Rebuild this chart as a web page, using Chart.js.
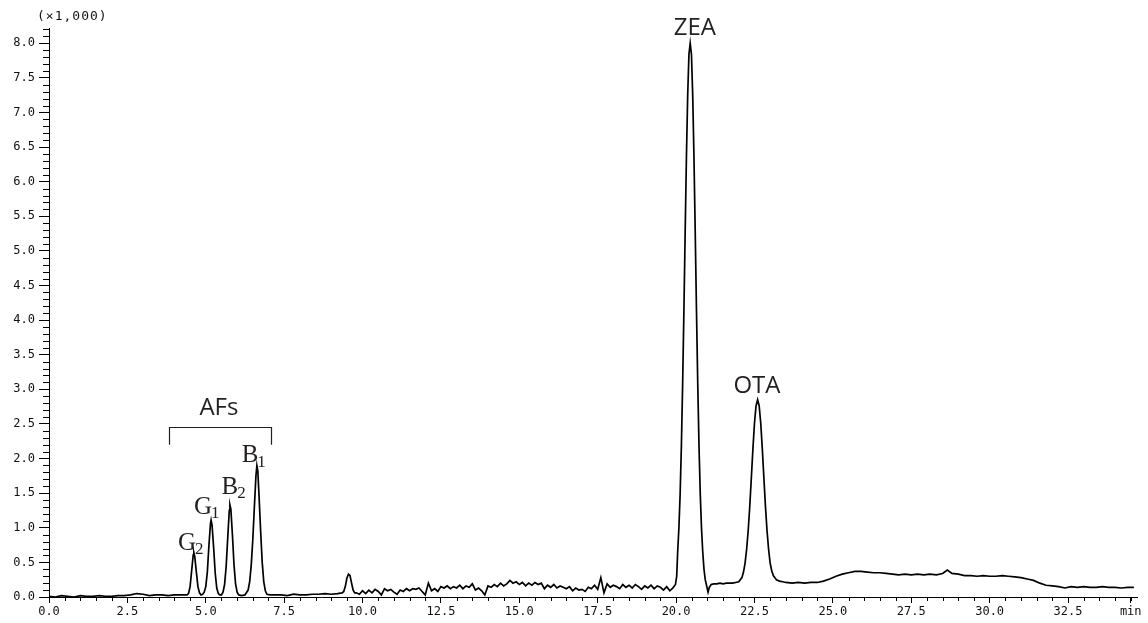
<!DOCTYPE html>
<html lang="en">
<head>
    <meta charset="UTF-8">
    <title>Chromatogram - AFs, ZEA, OTA</title>
    <script src="https://cdn.jsdelivr.net/npm/chart.js"></script>
    <style>
        body {
            margin: 0;
            background: white;
        }

        .chart-box {
            width: 1148px;
            height: 623px;
        }
    </style>
</head>
<body>
    <div class="chart-box">
        <canvas id="chromChart" width="1148" height="623"></canvas>
    </div>

    <script>
        // retention time (min) and detector signal (x1,000)
        const retentionTime = [
            0.0, 0.2, 0.4, 0.6, 0.8, 1.0, 1.2, 1.4, 1.6, 1.8, 2.0, 2.2, 2.4, 2.6, 2.8, 3.0, 3.2, 3.4, 3.6, 3.8, 4.0, 4.2, 4.4,
            4.45, 4.50, 4.55, 4.60, 4.62, 4.65, 4.70, 4.75, 4.80, 4.85, 4.90,
            4.95, 5.00, 5.05, 5.10, 5.15, 5.17, 5.20, 5.25, 5.30, 5.35, 5.40, 5.45,
            5.50, 5.55, 5.60, 5.65, 5.70, 5.75, 5.77, 5.80, 5.85, 5.90, 5.95, 6.00, 6.05, 6.15,
            6.25, 6.35, 6.40, 6.45, 6.50, 6.55, 6.60, 6.63, 6.66, 6.70, 6.75, 6.80, 6.85, 6.90, 6.95, 7.05,
            7.2, 7.4, 7.6, 7.8, 8.0, 8.2, 8.4, 8.6, 8.8, 9.0, 9.2, 9.35,
            9.40, 9.45, 9.50, 9.55, 9.60, 9.65, 9.70, 9.75,
            9.8, 9.9, 10.0, 10.1, 10.2, 10.3, 10.4, 10.5, 10.6, 10.7, 10.8, 10.9,
            11.0, 11.1, 11.2, 11.3, 11.4, 11.5, 11.6, 11.7, 11.8, 11.9,
            12.0, 12.1, 12.2, 12.3, 12.4, 12.5, 12.6, 12.7, 12.8, 12.9,
            13.0, 13.1, 13.2, 13.3, 13.4, 13.5, 13.6, 13.7, 13.8, 13.9,
            14.0, 14.1, 14.2, 14.3, 14.4, 14.5, 14.6, 14.7, 14.8, 14.9,
            15.0, 15.1, 15.2, 15.3, 15.4, 15.5, 15.6, 15.7, 15.8, 15.9,
            16.0, 16.1, 16.2, 16.3, 16.4, 16.5, 16.6, 16.7, 16.8, 16.9,
            17.0, 17.1, 17.2, 17.3, 17.4, 17.5, 17.6, 17.7, 17.8, 17.9,
            18.0, 18.1, 18.2, 18.3, 18.4, 18.5, 18.6, 18.7, 18.8, 18.9,
            19.0, 19.1, 19.2, 19.3, 19.4, 19.5, 19.6, 19.7, 19.8, 19.9, 19.98,
            20.02, 20.05, 20.09, 20.13, 20.17, 20.21, 20.25, 20.29, 20.33, 20.37, 20.41, 20.45,
            20.49, 20.53, 20.57, 20.61, 20.65, 20.69, 20.73, 20.77, 20.81, 20.85, 20.89, 20.93, 20.97,
            21.02, 21.06, 21.12, 21.2, 21.3, 21.4, 21.5, 21.6, 21.7, 21.8, 21.9, 22.0,
            22.1, 22.15, 22.2, 22.25, 22.3, 22.35, 22.4, 22.45, 22.5, 22.55, 22.6,
            22.65, 22.7, 22.75, 22.8, 22.85, 22.9, 22.95, 23.0, 23.05, 23.1, 23.2, 23.3, 23.4,
            23.5, 23.7, 23.9, 24.1, 24.3, 24.5, 24.7, 24.9, 25.1, 25.3, 25.5, 25.7, 25.9,
            26.1, 26.3, 26.5, 26.7, 26.9, 27.1, 27.3, 27.5, 27.7, 27.9, 28.1, 28.3, 28.5, 28.65, 28.8,
            29.0, 29.2, 29.4, 29.6, 29.8, 30.0, 30.2, 30.4, 30.6, 30.8, 31.0, 31.2, 31.4, 31.6, 31.8,
            32.0, 32.2, 32.4, 32.6, 32.8, 33.0, 33.2, 33.4, 33.6, 33.8, 34.0, 34.2, 34.4, 34.6
        ];
        const signal = [
            0.01, 0.00, 0.02, 0.01, 0.00, 0.02, 0.01, 0.01, 0.02, 0.01, 0.01, 0.02, 0.02, 0.03, 0.05, 0.04, 0.02, 0.03, 0.03, 0.02, 0.03, 0.03, 0.03,
            0.05, 0.15, 0.38, 0.61, 0.64, 0.58, 0.36, 0.15, 0.06, 0.03, 0.04,
            0.07, 0.15, 0.36, 0.74, 1.06, 1.11, 1.04, 0.72, 0.35, 0.13, 0.05, 0.03,
            0.03, 0.07, 0.18, 0.44, 0.85, 1.25, 1.33, 1.27, 0.90, 0.47, 0.19, 0.07, 0.03, 0.02,
            0.03, 0.10, 0.22, 0.46, 0.83, 1.30, 1.75, 1.90, 1.82, 1.45, 0.95, 0.50, 0.22, 0.09, 0.04, 0.03,
            0.03, 0.03, 0.02, 0.04, 0.03, 0.03, 0.04, 0.04, 0.05, 0.04, 0.05, 0.06,
            0.08, 0.15, 0.27, 0.33, 0.31, 0.20, 0.10, 0.06,
            0.06, 0.04, 0.09, 0.05, 0.10, 0.06, 0.11, 0.08, 0.03, 0.12, 0.09, 0.11,
            0.07, 0.04, 0.10, 0.08, 0.12, 0.09, 0.12, 0.11, 0.13, 0.08,
            0.03, 0.20, 0.09, 0.12, 0.08, 0.15, 0.13, 0.16, 0.12, 0.15,
            0.13, 0.17, 0.12, 0.16, 0.14, 0.19, 0.10, 0.13, 0.09, 0.03,
            0.16, 0.14, 0.18, 0.15, 0.20, 0.16, 0.19, 0.24, 0.20, 0.22,
            0.18, 0.21, 0.16, 0.20, 0.17, 0.21, 0.18, 0.20, 0.12, 0.17,
            0.14, 0.18, 0.13, 0.16, 0.14, 0.12, 0.15, 0.09, 0.13, 0.10,
            0.11, 0.08, 0.14, 0.12, 0.17, 0.11, 0.28, 0.06, 0.19, 0.14,
            0.17, 0.15, 0.12, 0.18, 0.14, 0.17, 0.13, 0.18, 0.15, 0.11,
            0.16, 0.13, 0.17, 0.12, 0.16, 0.14, 0.10, 0.15, 0.09, 0.13, 0.18,
            0.30, 0.65, 1.00, 1.50, 2.20, 3.10, 4.15, 5.28, 6.36, 7.25, 7.84, 8.00,
            7.84, 7.25, 6.36, 5.28, 4.15, 3.10, 2.20, 1.50, 1.00, 0.65, 0.40, 0.25, 0.17,
            0.07, 0.14, 0.18, 0.19, 0.19, 0.20, 0.19, 0.20, 0.20, 0.20, 0.21, 0.22,
            0.28, 0.36, 0.49, 0.69, 0.96, 1.31, 1.72, 2.14, 2.51, 2.76, 2.85,
            2.76, 2.51, 2.14, 1.72, 1.31, 0.96, 0.69, 0.49, 0.38, 0.31, 0.25, 0.23, 0.22,
            0.21, 0.20, 0.21, 0.20, 0.21, 0.21, 0.23, 0.26, 0.30, 0.33, 0.35, 0.37, 0.37,
            0.36, 0.35, 0.35, 0.34, 0.33, 0.32, 0.33, 0.32, 0.33, 0.32, 0.33, 0.32, 0.34, 0.39, 0.34,
            0.33, 0.31, 0.31, 0.30, 0.31, 0.30, 0.30, 0.31, 0.30, 0.29, 0.28, 0.26, 0.24, 0.20, 0.17,
            0.16, 0.15, 0.13, 0.15, 0.14, 0.15, 0.14, 0.14, 0.15, 0.14, 0.14, 0.13, 0.14, 0.14
        ];

        const xTickValues = [0, 2.5, 5, 7.5, 10, 12.5, 15, 17.5, 20, 22.5, 25, 27.5, 30, 32.5, 34.5];
        const xTickLabels = ['0.0', '2.5', '5.0', '7.5', '10.0', '12.5', '15.0', '17.5', '20.0', '22.5', '25.0', '27.5', '30.0', '32.5', 'min'];
        const yTickValues = [0, 0.5, 1, 1.5, 2, 2.5, 3, 3.5, 4, 4.5, 5, 5.5, 6, 6.5, 7, 7.5, 8];
        const yTickLabels = ['0.0', '0.5', '1.0', '1.5', '2.0', '2.5', '3.0', '3.5', '4.0', '4.5', '5.0', '5.5', '6.0', '6.5', '7.0', '7.5', '8.0'];

        // peak labels, anchored in data units
        const peakLabels = [
            { text: 'ZEA', x: 20.6, y: 8.22, font: '24px "Open Sans"' },
            { text: 'OTA', x: 22.58, y: 3.05, font: '24px "Open Sans"' },
            { text: 'AFs', x: 5.42, y: 2.73, font: '24px "Open Sans"' },
            { text: 'G', sub: '2', x: 4.40, y: 0.78 },
            { text: 'G', sub: '1', x: 4.91, y: 1.30 },
            { text: 'B', sub: '2', x: 5.77, y: 1.59 },
            { text: 'B', sub: '1', x: 6.41, y: 2.05 }
        ];
        const bracket = { from: 3.83, to: 7.08, top: 2.46, bottom: 2.20 };

        const points = retentionTime.map((t, i) => ({ x: t, y: signal[i] }));

        // minor ticks between the labelled ones
        const minorTicks = {
            id: 'minorTicks',
            afterDraw(chart) {
                const { ctx, scales: { x, y } } = chart;
                ctx.save();
                ctx.strokeStyle = '#000';
                ctx.lineWidth = 1;
                ctx.beginPath();
                for (let i = 1; i <= 69; i++) {
                    if (i % 5 === 0) continue;
                    const px = Math.round(x.getPixelForValue(i * 0.5)) + 0.5;
                    ctx.moveTo(px, x.top);
                    ctx.lineTo(px, x.top + 4);
                }
                for (let i = 1; i <= 82; i++) {
                    if (i % 5 === 0) continue;
                    const py = Math.round(y.getPixelForValue(i / 10)) + 0.5;
                    ctx.moveTo(y.right - 6, py);
                    ctx.lineTo(y.right, py);
                }
                ctx.stroke();

                // unit note above the y axis
                ctx.fillStyle = '#111';
                ctx.font = '13px "DejaVu Sans Mono"';
                ctx.letterSpacing = '1px';
                ctx.textAlign = 'left';
                ctx.textBaseline = 'middle';
                ctx.fillText('(\u00d71,000)', 37, 17);
                ctx.restore();
            }
        };

        const peakText = {
            id: 'peakText',
            afterDraw(chart) {
                const { ctx, scales: { x, y } } = chart;
                ctx.save();
                ctx.fillStyle = '#231f20';
                ctx.textBaseline = 'middle';
                peakLabels.forEach(lab => {
                    const px = x.getPixelForValue(lab.x);
                    const py = y.getPixelForValue(lab.y);
                    if (!lab.sub) {
                        ctx.font = lab.font;
                        ctx.textAlign = 'center';
                        ctx.fillText(lab.text, px, py);
                        return;
                    }
                    ctx.font = '25px "Liberation Serif"';
                    ctx.textAlign = 'center';
                    ctx.fillText(lab.text, px, py);
                    const w = ctx.measureText(lab.text).width;
                    ctx.font = '17px "Liberation Serif"';
                    ctx.textAlign = 'left';
                    ctx.fillText(lab.sub, px + w / 2 - 1, py + 7);
                });

                // AFs bracket
                const x1 = Math.round(x.getPixelForValue(bracket.from)) + 0.5;
                const x2 = Math.round(x.getPixelForValue(bracket.to)) + 0.5;
                const yt = Math.round(y.getPixelForValue(bracket.top)) + 0.5;
                const yb = y.getPixelForValue(bracket.bottom);
                ctx.strokeStyle = '#231f20';
                ctx.lineWidth = 1.2;
                ctx.beginPath();
                ctx.moveTo(x1, yb);
                ctx.lineTo(x1, yt);
                ctx.lineTo(x2, yt);
                ctx.lineTo(x2, yb);
                ctx.stroke();
                ctx.restore();
            }
        };

        const tickFont = { family: '"DejaVu Sans Mono"', size: 12 };

        const chromChart = new Chart(document.getElementById('chromChart'), {
            type: 'line',
            data: {
                datasets: [{
                    data: points,
                    borderColor: '#000',
                    borderWidth: 1.7,
                    pointRadius: 0,
                    tension: 0,
                    fill: false
                }]
            },
            options: {
                responsive: false,
                animation: false,
                layout: { padding: { top: 28, right: 11, left: 0, bottom: 0 } },
                plugins: {
                    legend: { display: false },
                    tooltip: { enabled: false }
                },
                scales: {
                    x: {
                        type: 'linear',
                        min: 0,
                        max: 34.7,
                        afterBuildTicks: s => { s.ticks = xTickValues.map(v => ({ value: v })); },
                        afterFit: s => { s.height = 26; },
                        ticks: {
                            autoSkip: false,
                            maxRotation: 0,
                            padding: 2,
                            color: '#111',
                            font: tickFont,
                            callback: (v) => xTickLabels[xTickValues.indexOf(v)]
                        },
                        grid: { drawOnChartArea: false, tickLength: 6, color: '#000' },
                        border: { color: '#000', width: 1 }
                    },
                    y: {
                        min: 0,
                        max: 8.22,
                        afterBuildTicks: s => { s.ticks = yTickValues.map(v => ({ value: v })); },
                        afterFit: s => { s.width = 49; },
                        ticks: {
                            autoSkip: false,
                            padding: 4,
                            color: '#111',
                            font: tickFont,
                            callback: (v) => yTickLabels[yTickValues.indexOf(v)]
                        },
                        grid: { drawOnChartArea: false, tickLength: 10, color: '#000' },
                        border: { color: '#000', width: 1 }
                    }
                }
            },
            plugins: [minorTicks, peakText]
        });
    </script>
</body>
</html>
